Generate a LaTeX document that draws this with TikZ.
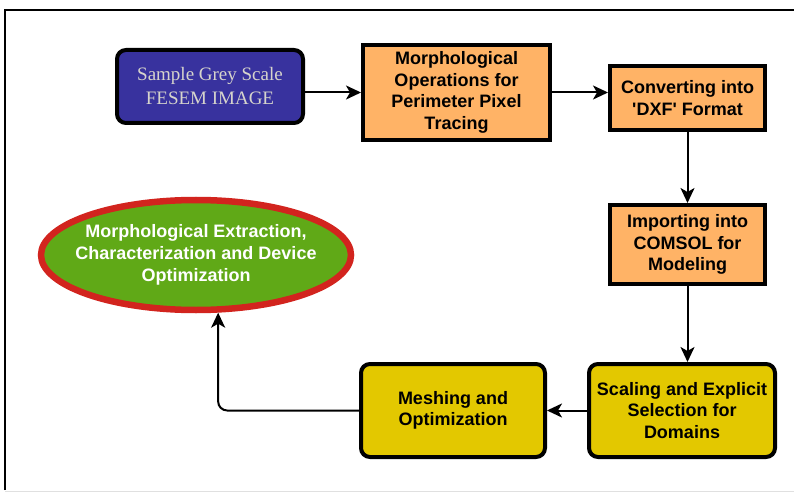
\documentclass[tikz,border=0pt]{standalone}
\usepackage{fontspec}
\setmainfont{Liberation Sans}
\newfontfamily\serifface{Liberation Serif}
\usetikzlibrary{shapes.geometric,arrows.meta}
\definecolor{boxblue}{RGB}{56,50,158}
\definecolor{boxorange}{RGB}{255,179,102}
\definecolor{boxyellow}{RGB}{227,200,0}
\definecolor{ovalgreen}{RGB}{96,169,23}
\definecolor{ovalred}{RGB}{210,36,30}
\definecolor{greytext}{RGB}{214,212,204}
\begin{document}
\begin{tikzpicture}[x=1pt,y=-1pt,
  base/.style={draw=black,line width=4pt,align=center,inner sep=1pt,
    font=\fontsize{18}{21.5}\selectfont\bfseries},
  sqbox/.style={base,rectangle,fill=boxorange},
  rndbox/.style={base,rectangle,rounded corners=9pt,fill=boxyellow},
  arr/.style={draw=black,line width=2pt,-{Stealth[length=15pt,width=14pt,inset=4pt]}}]
  \useasboundingbox (0,0) rectangle (794,494);
  % frame lines
  \draw[line width=2pt] (5,490) -- (5,10) -- (794,10);
  \draw[line width=1pt,black!12] (5,491.5) -- (794,491.5);
  % process steps
  \node[base,rectangle,rounded corners=9pt,fill=boxblue,text=greytext,
    font=\serifface\fontsize{19}{24}\selectfont,
    minimum width=186pt,minimum height=73pt] (img) at (210,86.5)
    {Sample Grey Scale\\FESEM IMAGE};
  \node[sqbox,minimum width=187pt,minimum height=95pt] (morph) at (456.5,92.5)
    {Morphological\\Operations for\\Perimeter Pixel\\Tracing};
  \node[sqbox,minimum width=155pt,minimum height=64pt] (dxf) at (687.5,98)
    {Converting into\\\textquotesingle DXF\textquotesingle{} Format};
  \node[sqbox,minimum width=155pt,minimum height=79pt] (comsol) at (687.5,244.5)
    {Importing into\\COMSOL for\\Modeling};
  \node[rndbox,minimum width=186pt,minimum height=93pt] (scale) at (682,410.5)
    {Scaling and Explicit\\Selection for\\Domains};
  \node[rndbox,minimum width=184pt,minimum height=93pt] (mesh) at (453,410.5)
    {Meshing and\\Optimization};
  % outcome oval, its text set as a centred label so the oval keeps its size
  \node[ellipse,draw=ovalred,line width=6.5pt,fill=ovalgreen,inner sep=0pt,
    minimum width=310pt,minimum height=110pt,
    label={[name=resulttext,text=white,align=center,inner sep=0pt,
      font=\fontsize{18}{22}\selectfont\bfseries]center:{Morphological Extraction,\\Characterization and Device\\Optimization}}]
    (result) at (196,255) {};
  % connectors
  \draw[arr] (img.east |- morph.west) -- (morph.west);
  \draw[arr] (morph.east) -- (morph.east -| dxf.west);
  \draw[arr] (dxf.south) -- (comsol.north);
  \draw[arr] (comsol.south) -- (comsol.south |- scale.north);
  \draw[arr] (scale.west) -- (scale.west -| mesh.east);
  \draw[arr,rounded corners=9pt] (mesh.west) -| (result.-69);
\end{tikzpicture}
\end{document}
